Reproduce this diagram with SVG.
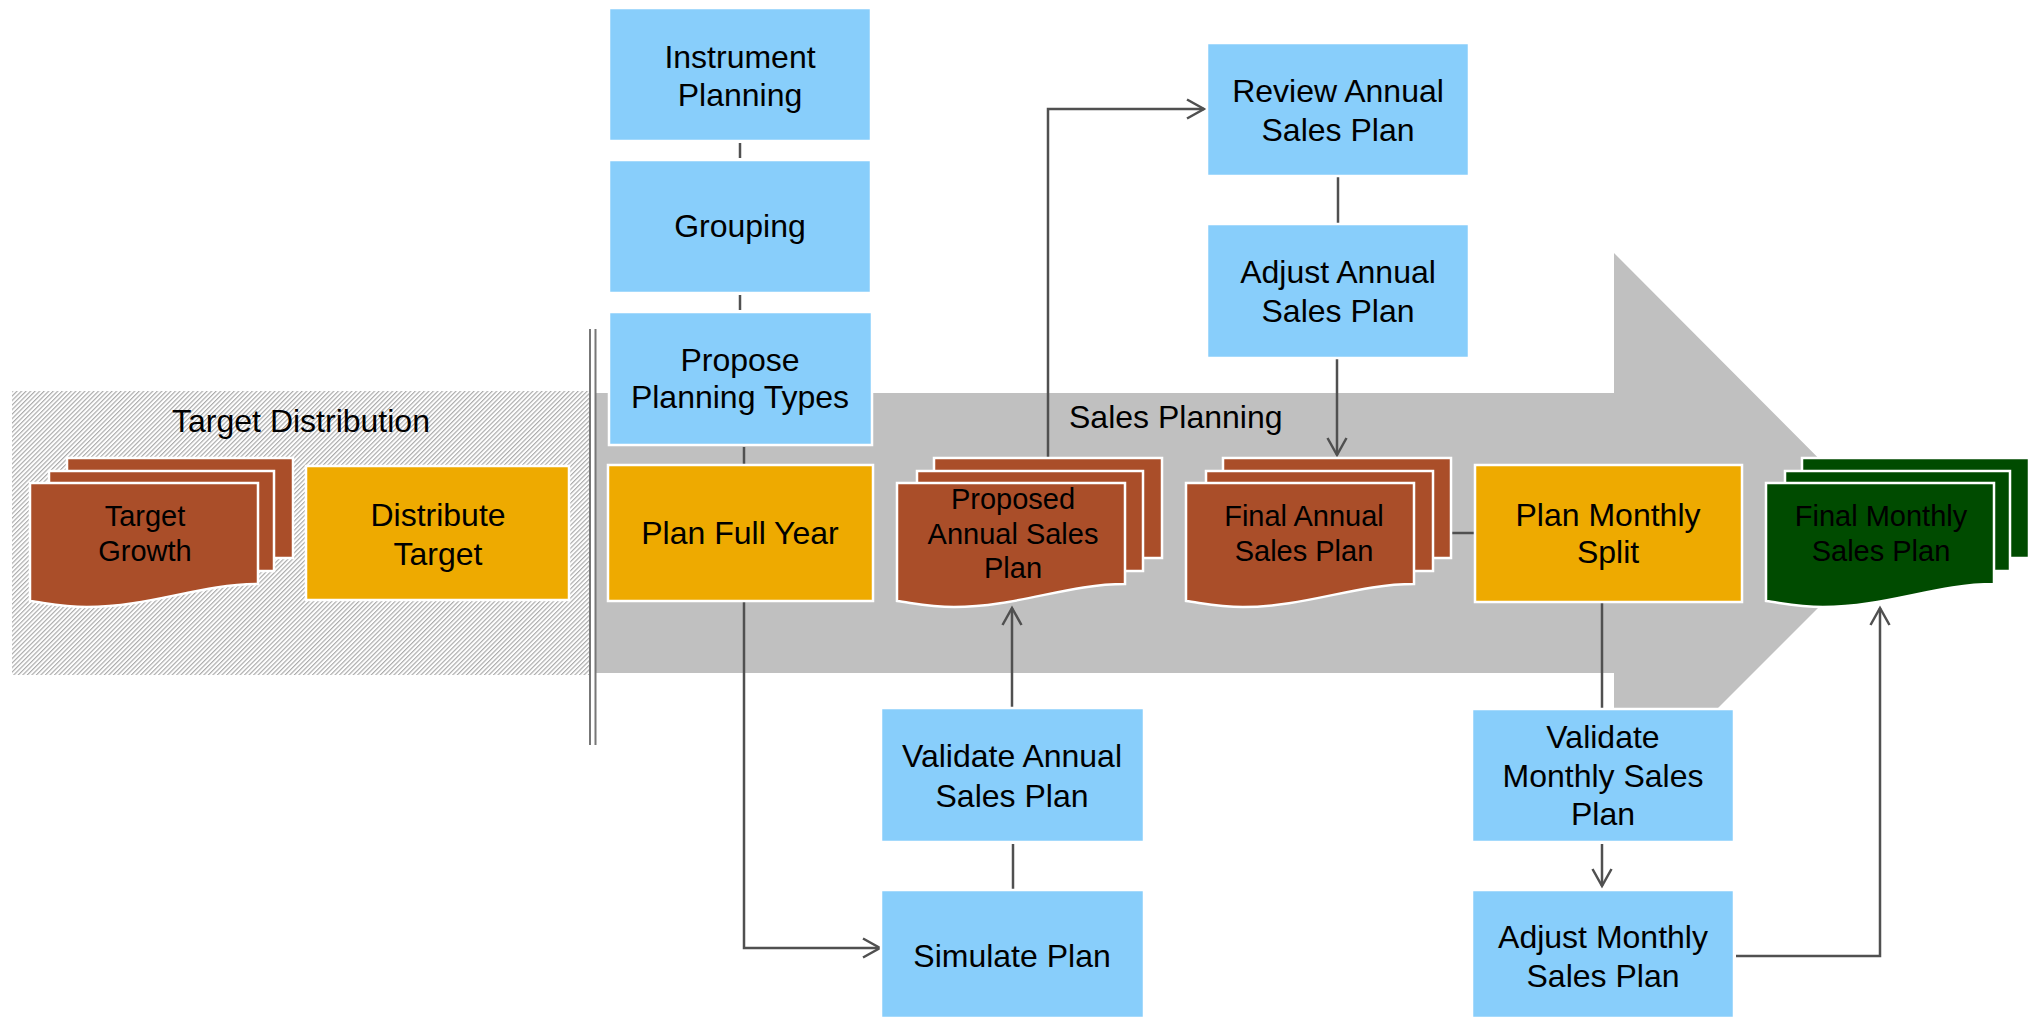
<svg xmlns="http://www.w3.org/2000/svg" width="2034" height="1018" viewBox="0 0 2034 1018">
<defs>
<pattern id="hatch" width="3.2" height="3.2" patternUnits="userSpaceOnUse" patternTransform="rotate(45)">
<rect width="3.2" height="3.2" fill="#ffffff"/>
<line x1="0.6" y1="0" x2="0.6" y2="3.2" stroke="#a6a6a6" stroke-width="1.1"/>
</pattern>
<marker id="arr" markerUnits="userSpaceOnUse" markerWidth="24" markerHeight="24" refX="20" refY="12" orient="auto">
<path d="M3,2.5 L20,12 L3,21.5" fill="none" stroke="#505050" stroke-width="2.5"/>
</marker>
<path id="front" d="M0,0 H228 V101 C170,101 120,124 57,124 C32,124 16,120 0,118 Z"/>
</defs>
<style>
.box{fill:#88CEFB;stroke:#ffffff;stroke-width:2.5}
.act{fill:#EEAA00;stroke:#ffffff;stroke-width:2.5}
.brown{fill:#AA4E29;stroke:#ffffff;stroke-width:2.5}
.green{fill:#004B00;stroke:#ffffff;stroke-width:2.5}
.t{font-family:"Liberation Sans",Arial,sans-serif;font-size:32px;fill:#000;text-anchor:middle}
.d{font-family:"Liberation Sans",Arial,sans-serif;font-size:29px;fill:#000;text-anchor:middle}
.lbl{font-family:"Liberation Sans",Arial,sans-serif;font-size:32px;fill:#000}
.c{fill:none;stroke:#505050;stroke-width:2.5}
</style>
<rect width="2034" height="1018" fill="#ffffff"/>
<g id="background">
<rect x="12" y="391" width="577" height="284" fill="url(#hatch)"/>
<polygon points="596,393 1614,393 1614,253 1893,533 1614,812 1614,673 596,673" fill="#C0C0C0"/>
<line x1="590" y1="329" x2="590" y2="745" stroke="#777" stroke-width="2"/>
<line x1="595.5" y1="329" x2="595.5" y2="745" stroke="#777" stroke-width="2"/>
<text class="lbl" x="301" y="432" text-anchor="middle">Target Distribution</text>
<text class="lbl" x="1069" y="428">Sales Planning</text>
</g>
<g id="connectors">
<line class="c" x1="740" y1="143" x2="740" y2="158"/>
<line class="c" x1="740" y1="295" x2="740" y2="310"/>
<line class="c" x1="744" y1="447" x2="744" y2="464"/>
<polyline class="c" points="744,602 744,948 880,948" marker-end="url(#arr)"/>
<line class="c" x1="1013" y1="844" x2="1013" y2="889"/>
<line class="c" x1="1012" y1="707" x2="1012" y2="608" marker-end="url(#arr)"/>
<polyline class="c" points="1048,457 1048,109 1204,109" marker-end="url(#arr)"/>
<line class="c" x1="1338" y1="177" x2="1338" y2="223"/>
<line class="c" x1="1337" y1="359" x2="1337" y2="455" marker-end="url(#arr)"/>
<line class="c" x1="1452" y1="533" x2="1475" y2="533"/>
<line class="c" x1="1602" y1="603" x2="1602" y2="708"/>
<line class="c" x1="1602" y1="844" x2="1602" y2="886" marker-end="url(#arr)"/>
<polyline class="c" points="1736,956 1880,956 1880,608" marker-end="url(#arr)"/>
</g>
<g id="target-growth">
<rect class="brown" x="67" y="458" width="226" height="100"/>
<rect class="brown" x="49" y="471" width="225" height="100"/>
<use href="#front" class="brown" x="30" y="483"/>
<text class="d" x="145" y="526">Target</text>
<text class="d" x="145" y="561">Growth</text>
</g>
<g id="distribute-target">
<rect class="act" x="306" y="466" width="263" height="134"/>
<text class="t" x="438" y="526">Distribute</text>
<text class="t" x="438" y="565">Target</text>
</g>
<g id="instrument-planning">
<rect class="box" x="609" y="8" width="262" height="133"/>
<text class="t" x="740" y="68">Instrument</text>
<text class="t" x="740" y="106">Planning</text>
</g>
<g id="grouping">
<rect class="box" x="609" y="160" width="262" height="133"/>
<text class="t" x="740" y="237">Grouping</text>
</g>
<g id="propose-planning-types">
<rect class="box" x="609" y="312" width="263" height="133"/>
<text class="t" x="740" y="371">Propose</text>
<text class="t" x="740" y="408">Planning Types</text>
</g>
<g id="plan-full-year">
<rect class="act" x="608" y="465" width="265" height="136"/>
<text class="t" x="740" y="544">Plan Full Year</text>
</g>
<g id="proposed-annual-sales-plan">
<rect class="brown" x="934" y="458" width="228" height="100"/>
<rect class="brown" x="917" y="471" width="226" height="100"/>
<use href="#front" class="brown" x="897" y="483"/>
<text class="d" x="1013" y="509">Proposed</text>
<text class="d" x="1013" y="544">Annual Sales</text>
<text class="d" x="1013" y="578">Plan</text>
</g>
<g id="review-annual-sales-plan">
<rect class="box" x="1207" y="43" width="262" height="133"/>
<text class="t" x="1338" y="102">Review Annual</text>
<text class="t" x="1338" y="141">Sales Plan</text>
</g>
<g id="adjust-annual-sales-plan">
<rect class="box" x="1207" y="224" width="262" height="134"/>
<text class="t" x="1338" y="283">Adjust Annual</text>
<text class="t" x="1338" y="322">Sales Plan</text>
</g>
<g id="final-annual-sales-plan">
<rect class="brown" x="1223" y="458" width="228" height="100"/>
<rect class="brown" x="1206" y="471" width="227" height="100"/>
<use href="#front" class="brown" x="1186" y="483"/>
<text class="d" x="1304" y="526">Final Annual</text>
<text class="d" x="1304" y="561">Sales Plan</text>
</g>
<g id="plan-monthly-split">
<rect class="act" x="1475" y="465" width="267" height="137"/>
<text class="t" x="1608" y="526">Plan Monthly</text>
<text class="t" x="1608" y="563">Split</text>
</g>
<g id="final-monthly-sales-plan">
<rect class="green" x="1802" y="458" width="227" height="100"/>
<rect class="green" x="1785" y="471" width="225" height="100"/>
<use href="#front" class="green" x="1766" y="483"/>
<text class="d" x="1881" y="526">Final Monthly</text>
<text class="d" x="1881" y="561">Sales Plan</text>
</g>
<g id="validate-annual-sales-plan">
<rect class="box" x="881" y="708" width="263" height="134"/>
<text class="t" x="1012" y="767">Validate Annual</text>
<text class="t" x="1012" y="807">Sales Plan</text>
</g>
<g id="simulate-plan">
<rect class="box" x="881" y="890" width="263" height="128"/>
<text class="t" x="1012" y="967">Simulate Plan</text>
</g>
<g id="validate-monthly-sales-plan">
<rect class="box" x="1472" y="709" width="262" height="133"/>
<text class="t" x="1603" y="748">Validate</text>
<text class="t" x="1603" y="787">Monthly Sales</text>
<text class="t" x="1603" y="825">Plan</text>
</g>
<g id="adjust-monthly-sales-plan">
<rect class="box" x="1472" y="890" width="262" height="128"/>
<text class="t" x="1603" y="948">Adjust Monthly</text>
<text class="t" x="1603" y="987">Sales Plan</text>
</g>
</svg>
